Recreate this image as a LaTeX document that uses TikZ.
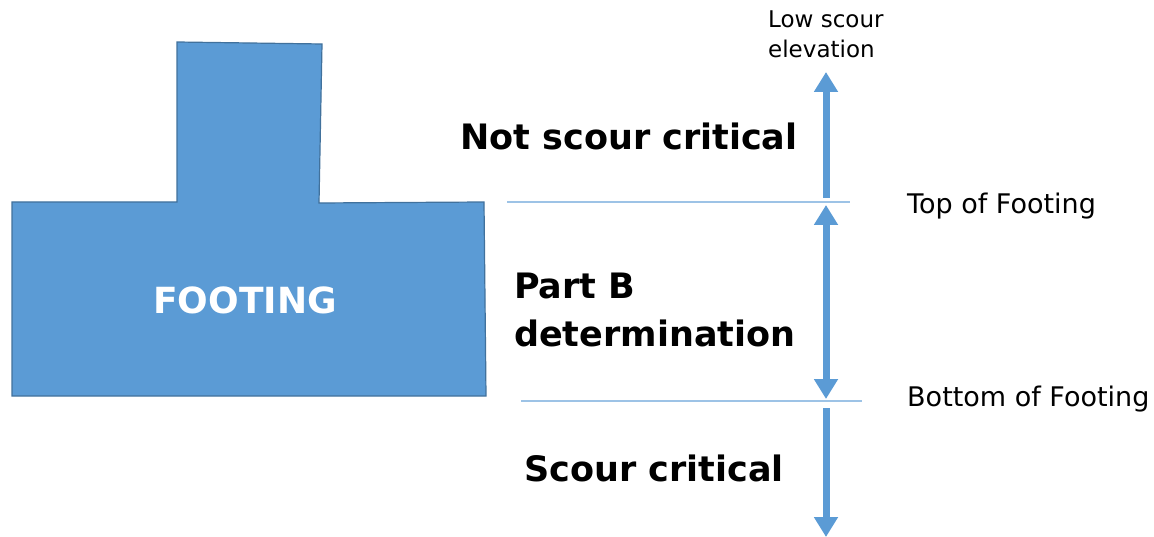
\documentclass[tikz,border=0pt]{standalone}
\usepackage{fontspec}
\setmainfont{DejaVu Sans}
\usetikzlibrary{arrows.meta}
\definecolor{fblue}{HTML}{5B9BD5}
\definecolor{fedge}{HTML}{41719C}
\definecolor{lblue}{HTML}{9DC3E6}
\tikzset{
  big/.style={font=\bfseries\fontsize{35}{50}\selectfont, align=left, inner sep=0pt},
  small/.style={font=\fontsize{27}{30}\selectfont, align=left, inner sep=0pt},
  tiny/.style={font=\fontsize{23}{30}\selectfont, align=left, inner sep=0pt},
  arr/.style={fblue, line width=7pt, -{Triangle[width=23pt,length=20pt]}},
  darr/.style={fblue, line width=7pt, {Triangle[width=23pt,length=20pt]}-{Triangle[width=23pt,length=20pt]}},
  level/.style={lblue, line width=1.4pt}
}
\begin{document}
\begin{tikzpicture}[x=1pt,y=-1pt]
\useasboundingbox (0,0) rectangle (1154,537);
% footing
\draw[fill=fblue, draw=fedge, line width=1.2pt]
  (177,42) -- (322,44) -- (319,203) -- (484,202) -- (486,396) -- (12,396) -- (12,202) -- (177,202) -- cycle;
\node[font=\bfseries\fontsize{36}{40}\selectfont, text=white, inner sep=0pt, anchor=base] (ft) at (245,314) {FOOTING};
% level lines
\coordinate (t1) at (507,202); \coordinate (t2) at (850,202);
\coordinate (b1) at (521,401); \coordinate (b2) at (862,401);
\draw[level] (t1) -- (t2);
\draw[level] (b1) -- (b2);
% arrows
\coordinate (a1s) at (826,198); \coordinate (a1e) at (826,72);
\coordinate (a2s) at (826,205); \coordinate (a2e) at (826,399);
\coordinate (a3s) at (826,408); \coordinate (a3e) at (826,537);
\draw[arr] (a1s) -- (a1e);
\draw[darr] (a2s) -- (a2e);
\draw[arr] (a3s) -- (a3e);
% labels
\node[tiny, anchor=base west] (low) at (768,28) {Low scour};
\node[tiny, anchor=base west] (elev) at (768,58) {elevation};
\node[big, anchor=base west] (nsc) at (460,150) {Not scour critical};
\node[big, anchor=base west] (pb) at (514,299) {Part B};
\node[big, anchor=base west] (det) at (514,347) {determination};
\node[big, anchor=base west] (sc) at (524,481) {Scour critical};
\node[small, anchor=base west] (top) at (907,214) {Top of Footing};
\node[small, anchor=base west] (bot) at (907,406) {Bottom of Footing};
\end{tikzpicture}
\end{document}
